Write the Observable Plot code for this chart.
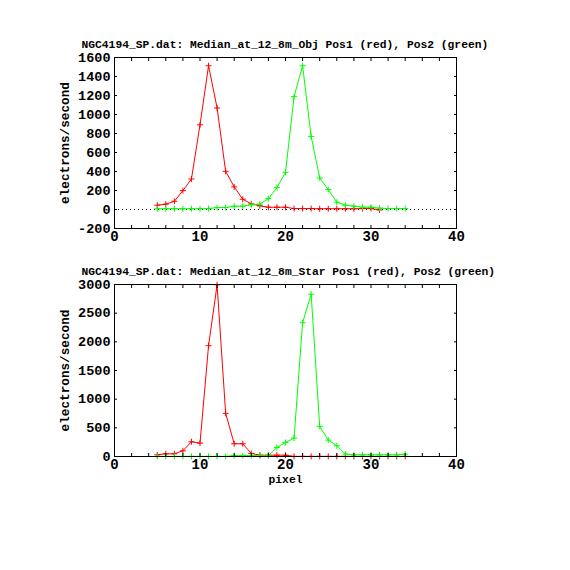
<!DOCTYPE html>
<html><head><meta charset="utf-8">
<script src="https://cdn.jsdelivr.net/npm/d3@7"></script>
<script src="https://cdn.jsdelivr.net/npm/@observablehq/plot@0.6"></script>
<style>
body{margin:0;background:#fff}
#c{position:relative;width:570px;height:570px;background:#fff}
#c svg{position:absolute;left:0;background:transparent}
</style>
</head><body><div id="c"></div><script>
// ---- data ----
const topTitle = "NGC4194_SP.dat: Median_at_12_8m_Obj Pos1 (red), Pos2 (green)";
const botTitle = "NGC4194_SP.dat: Median_at_12_8m_Star Pos1 (red), Pos2 (green)";
const yLabel = "electrons/second";
const xLabel = "pixel";

const topRedPixel = d3.range(5, 32);
const topRedValue = [45,56,87,199,321,891,1513,1069,402,238,108,59,38,24,24,24,10,10,10,8,8,8,8,8,10,10,-5];
const topGreenPixel = d3.range(5, 35);
const topGreenValue = [8,8,8,8,8,8,10,20,20,35,35,50,56,115,230,391,1188,1513,769,332,210,77,45,35,24,24,14,10,10,10];

const botRedPixel = d3.range(5, 35);
const botRedValue = [29,47,47,99,257,233,1932,2995,753,222,222,53,23,23,23,23,2,2,2,2,2,2,2,2,2,2,2,2,2,2];
const botGreenPixel = d3.range(5, 35);
const botGreenValue = [2,2,2,2,2,2,2,2,2,15,15,15,15,15,158,245,321,2334,2831,525,286,187,42,30,30,30,30,30,30,41];

const xTicks = [0,10,20,30,40];
const xMinor = d3.range(0, 41, 2);
const topYTicks = d3.range(-200, 1601, 200);
const botYTicks = d3.range(0, 3001, 500);

const toRows = (px, vals) => px.map((p, i) => ({p, v: vals[i]}));

const plusSym = {draw(ctx, size){ const r = Math.sqrt(size/Math.PI); ctx.moveTo(-r,0); ctx.lineTo(r,0); ctx.moveTo(0,-r); ctx.lineTo(0,r); }};
const mono = "'Liberation Mono', 'DejaVu Sans Mono', monospace";

function panel({title, red, green, yDomain, yTicks, height, mt, mb, zeroLine, showX}) {
  const marks = [
    zeroLine ? Plot.ruleY([0], {stroke: "black", strokeDasharray: "1,3"}) : null,
    Plot.line(red, {x: "p", y: "v", stroke: "#ff0000", strokeWidth: 1}),
    Plot.dot(red, {x: "p", y: "v", symbol: plusSym, r: 3, stroke: "#ff0000", fill: "none", strokeWidth: 1}),
    Plot.line(green, {x: "p", y: "v", stroke: "#00ff00", strokeWidth: 1}),
    Plot.dot(green, {x: "p", y: "v", symbol: plusSym, r: 3, stroke: "#00ff00", fill: "none", strokeWidth: 1}),
    Plot.frame({stroke: "black"}),
    Plot.axisX({anchor: "bottom", ticks: xTicks, tickSize: 0, tickPadding: 3, label: null, fontSize: 14, fontFamily: mono, fontWeight: "bold", tickFormat: d3.format("d")}),
    Plot.axisX({anchor: "bottom", ticks: xMinor, tickSize: -3, fill: "none", label: null}),
    Plot.axisX({anchor: "top", ticks: xMinor, tickSize: -3, fill: "none", label: null}),
    Plot.axisY({anchor: "left", ticks: yTicks, tickSize: 0, tickPadding: 4, label: null, fontSize: 13.5, fontFamily: mono, fontWeight: "bold", tickFormat: d => d < 0 ? "-" + Math.abs(d) : String(d)}),
    Plot.axisY({anchor: "left", ticks: yTicks, tickSize: -3, fill: "none", label: null}),
    Plot.axisY({anchor: "right", ticks: yTicks, tickSize: -3, fill: "none", label: null}),
    Plot.text([title], {text: d => d, frameAnchor: "top-left", textAnchor: "start", dx: -33, dy: -18, fontSize: 11.3, fontFamily: mono, fontWeight: "bold", fill: "black"}),
    Plot.text([yLabel], {text: d => d, frameAnchor: "left", textAnchor: "middle", rotate: -90, dx: -50, fontSize: 12.7, fontFamily: mono, fontWeight: "bold", fill: "black"}),
    showX ? Plot.text([xLabel], {text: d => d, frameAnchor: "bottom", textAnchor: "middle", dy: 26, fontSize: 11.3, fontFamily: mono, fontWeight: "bold", fill: "black"}) : null
  ].filter(Boolean);
  return Plot.plot({
    width: 570, height,
    marginLeft: 114, marginRight: 114, marginTop: mt, marginBottom: mb,
    x: {domain: [0, 40]},
    y: {domain: yDomain},
    style: {fontFamily: mono, color: "black", background: "transparent"},
    marks
  });
}

const c = document.getElementById("c");
const p1 = panel({title: topTitle, red: toRows(topRedPixel, topRedValue), green: toRows(topGreenPixel, topGreenValue),
  yDomain: [-200, 1600], yTicks: topYTicks, height: 260, mt: 57, mb: 32, zeroLine: true, showX: false});
p1.style.top = "0px";
c.appendChild(p1);
const p2 = panel({title: botTitle, red: toRows(botRedPixel, botRedValue), green: toRows(botGreenPixel, botGreenValue),
  yDomain: [0, 3000], yTicks: botYTicks, height: 270, mt: 34, mb: 64, zeroLine: false, showX: true});
p2.style.top = "250px";
c.appendChild(p2);
</script></body></html>
